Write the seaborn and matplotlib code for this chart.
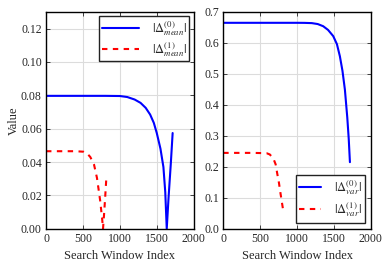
import numpy as np
import pandas as pd
import matplotlib
matplotlib.use("Agg")
import matplotlib.pyplot as plt
import seaborn as sns

# Left panel data (mean)
mean0_x = [0, 200, 400, 600, 800, 1000, 1100, 1200, 1280, 1350, 1410, 1460, 1500, 1550, 1590, 1615, 1635, 1660, 1690, 1715]
mean0_y = [0.0797, 0.0797, 0.0797, 0.0797, 0.0797, 0.0796, 0.0790, 0.0775, 0.0755, 0.0725, 0.0685, 0.0635, 0.0574, 0.048, 0.037, 0.022, 0.0, 0.019, 0.039, 0.0574]
mean1_x = [0, 200, 400, 507, 560, 600, 650, 690, 733, 760, 772, 785, 800, 815]
mean1_y = [0.0465, 0.0465, 0.0465, 0.0462, 0.0450, 0.0430, 0.0385, 0.0305, 0.017, 0.006, 0.0, 0.008, 0.018, 0.029]

# Right panel data (var)
var0_x = [0, 200, 400, 600, 800, 1000, 1100, 1200, 1280, 1354, 1420, 1490, 1540, 1580, 1615, 1648, 1680, 1700, 1716]
var0_y = [0.665, 0.665, 0.665, 0.665, 0.665, 0.665, 0.6648, 0.664, 0.661, 0.654, 0.642, 0.622, 0.596, 0.557, 0.51, 0.449, 0.36, 0.29, 0.215]
var1_x = [0, 200, 400, 587, 630, 677, 710, 731, 755, 776, 795, 813]
var1_y = [0.245, 0.245, 0.245, 0.244, 0.240, 0.228, 0.208, 0.179, 0.148, 0.114, 0.085, 0.058]

sns.set_style("whitegrid", {"axes.edgecolor": "black", "grid.color": "#dcdcdc",
                            "xtick.direction": "in", "ytick.direction": "in"})
plt.rcParams['font.family'] = ['Liberation Serif', 'DejaVu Serif']
plt.rcParams['mathtext.fontset'] = 'stix'
plt.rcParams['axes.linewidth'] = 1.0

fig, (ax1, ax2) = plt.subplots(1, 2, figsize=(3.9, 2.66), dpi=100)
fig.subplots_adjust(left=0.118, right=0.951, top=0.955, bottom=0.14, wspace=0.2)

df_m0 = pd.DataFrame({"x": mean0_x, "y": mean0_y})
df_m1 = pd.DataFrame({"x": mean1_x, "y": mean1_y})
df_v0 = pd.DataFrame({"x": var0_x, "y": var0_y})
df_v1 = pd.DataFrame({"x": var1_x, "y": var1_y})

dash = (2.6, 2.6)
sns.lineplot(data=df_m0, x="x", y="y", ax=ax1, color="#0000ff", lw=1.5, estimator=None, sort=False,
             label=r'$|\Delta^{(0)}_{mean}|$')
sns.lineplot(data=df_m1, x="x", y="y", ax=ax1, color="#ff0000", lw=1.5, estimator=None, sort=False,
             label=r'$|\Delta^{(1)}_{mean}|$')
ax1.lines[-1].set_dashes(dash)
sns.lineplot(data=df_v0, x="x", y="y", ax=ax2, color="#0000ff", lw=1.5, estimator=None, sort=False,
             label=r'$|\Delta^{(0)}_{var}|$')
sns.lineplot(data=df_v1, x="x", y="y", ax=ax2, color="#ff0000", lw=1.5, estimator=None, sort=False,
             label=r'$|\Delta^{(1)}_{var}|$')
ax2.lines[-1].set_dashes(dash)

ax1.set_xlim(0, 2000)
ax1.set_ylim(0, 0.13)
ax1.set_yticks([0, 0.02, 0.04, 0.06, 0.08, 0.10, 0.12])
ax1.set_yticklabels(["0.00", "0.02", "0.04", "0.06", "0.08", "0.10", "0.12"])
ax2.set_xlim(0, 2000)
ax2.set_ylim(0, 0.7)
ax2.set_yticks([0, 0.1, 0.2, 0.3, 0.4, 0.5, 0.6, 0.7])
ax2.set_yticklabels(["0.0", "0.1", "0.2", "0.3", "0.4", "0.5", "0.6", "0.7"])

for ax in (ax1, ax2):
    ax.set_xticks([0, 500, 1000, 1500, 2000])
    ax.set_xlabel("Search Window Index", fontsize=9)
    ax.tick_params(labelsize=8.5, length=3, width=0.6, direction="in", top=True, right=True,
                   bottom=True, left=True, pad=3)
    for s in ax.spines.values():
        s.set_color("black")
        s.set_linewidth(1.0)
ax1.set_ylabel("Value", fontsize=9, labelpad=1)
ax2.set_ylabel("")

leg1 = ax1.legend(loc="upper right", fontsize=9, handlelength=3.0, fancybox=False, framealpha=1,
                  edgecolor="#222222", borderpad=0.2, labelspacing=0.2, handletextpad=1.0,
                  borderaxespad=0.35)
leg1.get_frame().set_linewidth(1.0)
for h in leg1.get_lines()[1:]:
    h.set_dashes(dash)
leg2 = ax2.legend(loc="lower right", fontsize=9, handlelength=1.8, fancybox=False, framealpha=1,
                  edgecolor="#222222", borderpad=0.25, labelspacing=0.3, handletextpad=1.0,
                  borderaxespad=0.5)
leg2.get_frame().set_linewidth(1.0)
for h in leg2.get_lines()[1:]:
    h.set_dashes(dash)

fig.savefig("out.png", dpi=100)
